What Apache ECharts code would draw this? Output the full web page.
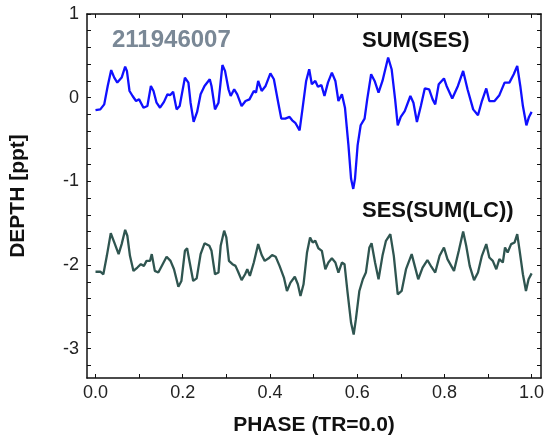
<!DOCTYPE html>
<html>
<head>
<meta charset="utf-8">
<script src="https://cdn.jsdelivr.net/npm/echarts@6/dist/echarts.min.js"></script>
<style>
  html, body { margin: 0; padding: 0; background: #fff; }
  #chart { width: 560px; height: 441px; }
</style>
</head>
<body>
<div id="chart"></div>
<script>
// SUM(SES) curve
const phaseTop = [0.000, 0.011, 0.020, 0.028, 0.036, 0.043, 0.050, 0.060, 0.068, 0.072, 0.078, 0.085, 0.093, 0.100, 0.110, 0.119, 0.127, 0.133, 0.140, 0.148, 0.157, 0.165, 0.171, 0.178, 0.186, 0.193, 0.205, 0.213, 0.218, 0.225, 0.233, 0.241, 0.250,
  0.253, 0.262, 0.266, 0.274, 0.282, 0.291, 0.297, 0.305, 0.310, 0.318, 0.325, 0.335, 0.344, 0.353, 0.363, 0.368, 0.373, 0.381, 0.390, 0.401, 0.409, 0.419, 0.426, 0.435, 0.445, 0.451, 0.458, 0.468, 0.475, 0.483, 0.490, 0.496, 0.504, 0.510,
  0.518, 0.525, 0.533, 0.542, 0.550, 0.557, 0.565, 0.572, 0.580, 0.586, 0.591, 0.595, 0.601, 0.608, 0.617, 0.623, 0.632, 0.640, 0.649, 0.658, 0.671, 0.679, 0.687, 0.693, 0.700, 0.709, 0.722, 0.729, 0.737, 0.746, 0.755, 0.765, 0.773,
  0.779, 0.787, 0.799, 0.805, 0.818, 0.831, 0.843, 0.853, 0.866, 0.877, 0.886, 0.896, 0.903, 0.915, 0.926, 0.938, 0.949, 0.959, 0.967, 0.974, 0.980, 0.988, 0.994, 1.000];
const depthTop = [-0.15, -0.14, -0.08, 0.14, 0.33, 0.24, 0.18, 0.24, 0.37, 0.32, 0.08, 0.02, -0.04, -0.02, -0.12, -0.10, 0.14, 0.08, -0.06, -0.12, -0.05, 0.04, 0.03, 0.07, -0.14, -0.10, 0.24, 0.18, -0.06, -0.29, -0.17, 0.04, 0.14,
  0.16, 0.22, 0.14, -0.14, -0.06, 0.39, 0.32, 0.10, 0.02, 0.10, 0.04, -0.10, -0.04, -0.02, 0.08, 0.06, 0.20, 0.08, 0.14, 0.29, 0.22, -0.06, -0.25, -0.25, -0.23, -0.27, -0.30, -0.39, -0.12, 0.20, 0.34, 0.16, 0.20, 0.13,
  0.15, 0.02, 0.18, 0.30, 0.20, -0.04, 0.04, -0.12, -0.57, -0.97, -1.09, -0.97, -0.57, -0.33, -0.25, -0.02, 0.28, 0.20, 0.06, 0.20, 0.48, 0.34, -0.02, -0.33, -0.23, -0.16, 0.02, -0.06, -0.29, -0.10, 0.11, 0.10, -0.02,
  -0.08, 0.16, 0.23, 0.14, -0.01, 0.14, 0.32, 0.10, -0.14, -0.21, -0.04, 0.11, -0.04, -0.04, 0.03, 0.18, 0.18, 0.28, 0.38, 0.14, -0.10, -0.33, -0.23, -0.17];

// SES(SUM(LC)) curve
const phaseBottom = [0.000, 0.011, 0.018, 0.026, 0.035, 0.043, 0.053, 0.060, 0.068, 0.073, 0.079, 0.087, 0.096, 0.104, 0.111, 0.117, 0.125, 0.129, 0.136, 0.144, 0.154, 0.163, 0.172, 0.180, 0.190, 0.197, 0.205, 0.210, 0.216, 0.224, 0.232, 0.241, 0.250,
  0.261, 0.266, 0.274, 0.282, 0.287, 0.295, 0.300, 0.306, 0.314, 0.321, 0.327, 0.335, 0.343, 0.348, 0.354, 0.363, 0.373, 0.381, 0.388, 0.397, 0.405, 0.413, 0.422, 0.432, 0.439, 0.447, 0.457, 0.464, 0.470, 0.477, 0.485, 0.492, 0.498, 0.504, 0.511,
  0.519, 0.527, 0.534, 0.542, 0.550, 0.557, 0.565, 0.571, 0.578, 0.586, 0.592, 0.597, 0.605, 0.613, 0.620, 0.628, 0.633, 0.641, 0.649, 0.658, 0.666, 0.676, 0.684, 0.693, 0.702, 0.712, 0.725, 0.732, 0.740, 0.750, 0.761, 0.770,
  0.779, 0.789, 0.799, 0.807, 0.822, 0.833, 0.843, 0.850, 0.858, 0.868, 0.877, 0.886, 0.896, 0.903, 0.911, 0.919, 0.926, 0.934, 0.939, 0.945, 0.953, 0.961, 0.967, 0.972, 0.980, 0.987, 0.993, 1.000];
const depthBottom = [-2.08, -2.08, -2.11, -1.89, -1.62, -1.73, -1.87, -1.75, -1.58, -1.65, -1.89, -2.07, -2.03, -1.99, -2.01, -1.95, -1.95, -1.87, -2.07, -2.09, -1.99, -1.90, -1.95, -2.05, -2.26, -2.19, -1.83, -1.80, -1.97, -2.19, -2.16, -1.87, -1.74,
  -1.77, -1.83, -2.11, -2.09, -1.77, -1.59, -1.67, -1.95, -1.99, -2.01, -2.08, -2.18, -2.11, -2.05, -2.13, -1.97, -1.75, -1.88, -1.95, -1.92, -1.88, -1.90, -2.01, -2.15, -2.31, -2.21, -2.14, -2.23, -2.37, -2.23, -1.85, -1.67, -1.73, -1.71, -1.80,
  -1.83, -2.05, -1.97, -1.92, -1.97, -2.09, -1.97, -1.99, -2.33, -2.69, -2.83, -2.65, -2.31, -2.17, -2.09, -1.79, -1.74, -1.97, -2.17, -1.89, -1.71, -1.63, -1.89, -2.35, -2.31, -2.05, -1.87, -2.01, -2.17, -2.03, -1.94, -2.02,
  -2.09, -1.89, -1.79, -1.93, -2.07, -1.83, -1.60, -1.77, -2.01, -2.18, -2.09, -1.89, -1.75, -1.91, -1.95, -2.05, -1.93, -1.97, -1.79, -1.85, -1.75, -1.73, -1.63, -1.81, -2.11, -2.31, -2.17, -2.10];

const xLabelValues = [0, 0.2, 0.4, 0.6, 0.8, 1.0];
const xTickValues = [0, 0.1, 0.2, 0.3, 0.4, 0.5, 0.6, 0.7, 0.8, 0.9, 1.0];
const yLabelValues = [-3, -2, -1, 0, 1];
const yTickValues = [-3.2, -3, -2.8, -2.6, -2.4, -2.2, -2, -1.8, -1.6, -1.4, -1.2, -1, -0.8, -0.6, -0.4, -0.2, 0, 0.2, 0.4, 0.6, 0.8, 1];

const FONT = '"Liberation Sans", Arial, Helvetica, sans-serif';
const X_MIN = -0.0195, X_MAX = 1.0215;
const Y_MIN = -3.35, Y_MAX = 1.0;

const chart = echarts.init(document.getElementById('chart'));

function zip(xs, ys) {
    return xs.map((x, i) => [x, ys[i]]);
}

const lineAxis = { show: true, onZero: false, lineStyle: { color: '#111', width: 1.5 } };
const tickStyle = { color: '#111', width: 1 };

const option = {
    animation: false,
    backgroundColor: '#fff',
    grid: { left: 84, right: 19, top: 14, bottom: 63 },
    xAxis: [{
        type: 'value', min: X_MIN, max: X_MAX, position: 'bottom',
        name: 'PHASE (TR=0.0)', nameLocation: 'middle', nameGap: 37,
        nameTextStyle: { fontFamily: FONT, fontSize: 21, fontWeight: 'bold', color: '#111' },
        axisLine: lineAxis,
        axisTick: { show: true, inside: true, length: 4, customValues: xTickValues, lineStyle: tickStyle },
        axisLabel: { customValues: xLabelValues, margin: 6, fontFamily: FONT, fontSize: 18, color: '#222',
            formatter: v => v.toFixed(1) },
        splitLine: { show: false }
    }, {
        type: 'value', min: X_MIN, max: X_MAX, position: 'top',
        axisLine: lineAxis,
        axisTick: { show: true, inside: true, length: 4, customValues: xTickValues, lineStyle: tickStyle },
        axisLabel: { show: false },
        splitLine: { show: false }
    }],
    yAxis: [{
        type: 'value', min: Y_MIN, max: Y_MAX, position: 'left',
        name: 'DEPTH [ppt]', nameLocation: 'middle', nameGap: 58, nameRotate: 90,
        nameTextStyle: { fontFamily: FONT, fontSize: 21, fontWeight: 'bold', color: '#111' },
        axisLine: lineAxis,
        axisTick: { show: true, inside: true, length: 4, customValues: yTickValues, lineStyle: tickStyle },
        axisLabel: { customValues: yLabelValues, margin: 8, fontFamily: FONT, fontSize: 18, color: '#222',
            formatter: v => String(v) },
        splitLine: { show: false }
    }, {
        type: 'value', min: Y_MIN, max: Y_MAX, position: 'right',
        axisLine: lineAxis,
        axisTick: { show: true, inside: true, length: 4, customValues: yTickValues, lineStyle: tickStyle },
        axisLabel: { show: false },
        splitLine: { show: false }
    }],
    graphic: [
        { type: 'text', left: 112, top: 28, style: { text: '211946007', fontFamily: FONT, fontSize: 24, fontWeight: 'bold', fill: '#7a8896' } },
        { type: 'text', left: 362, top: 30, style: { text: 'SUM(SES)', fontFamily: FONT, fontSize: 22, fontWeight: 'bold', fill: '#111' } },
        { type: 'text', left: 362, top: 200, style: { text: 'SES(SUM(LC))', fontFamily: FONT, fontSize: 22, fontWeight: 'bold', fill: '#111' } }
    ],
    series: [{
        name: 'SUM(SES)', type: 'line', showSymbol: false,
        data: zip(phaseTop, depthTop),
        lineStyle: { color: '#1010ff', width: 2.3 }
    }, {
        name: 'SES(SUM(LC))', type: 'line', showSymbol: false,
        data: zip(phaseBottom, depthBottom),
        lineStyle: { color: '#2f5550', width: 2.3 }
    }]
};

chart.setOption(option);
</script>
</body>
</html>
